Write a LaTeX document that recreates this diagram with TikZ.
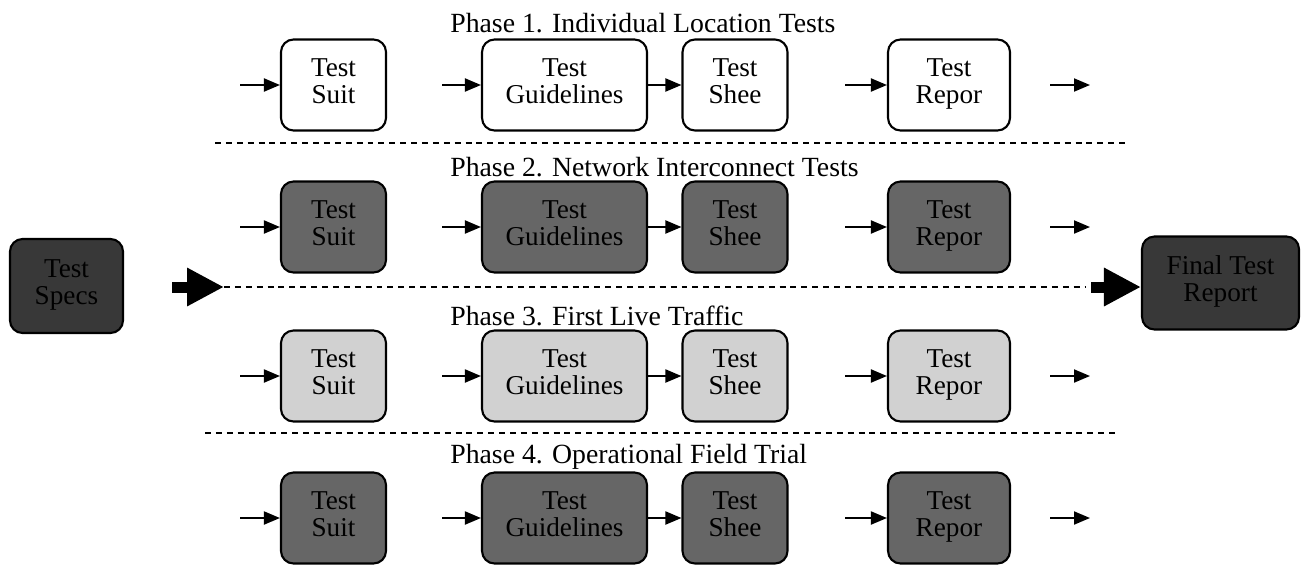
\documentclass[tikz,border=0pt]{standalone}
\usepackage{fontspec}
\setmainfont{Liberation Serif}
\usetikzlibrary{arrows.meta}

\begin{document}
\begin{tikzpicture}[x=0.02cm,y=-0.02cm,
    stage/.style={draw, line width=1.2pt, rounded corners=0.25cm, align=center,
        font=\fontsize{15.5}{15.5}\selectfont, minimum height=1.82cm, inner sep=0pt},
    plain/.style={stage, fill=white},
    dark/.style={stage, fill=black!60},
    light/.style={stage, fill=black!18},
    outer/.style={stage, fill=black!78},
    narrow/.style={minimum width=2.1cm},
    wide/.style={minimum width=3.3cm},
    mid/.style={minimum width=2.44cm},
    flow/.style={-{Triangle[length=0.32cm,width=0.26cm]}, line width=1.1pt},
    bigflow/.style={-{Triangle[length=0.74cm,width=0.72cm]}, line width=0.22cm},
    sep/.style={dash pattern=on 3.4pt off 2.8pt, line width=1pt},
    title/.style={anchor=west, inner sep=0pt, font=\fontsize{15.8}{17}\selectfont}]
    	\useasboundingbox (0,0) rectangle (1307,565);
    	\newcommand{\xsuit}{333.5}
    	\newcommand{\xguide}{564.5}
    	\newcommand{\xshee}{735}
    	\newcommand{\xrepor}{949}
    	\newcommand{\rowa}{85}
    	\newcommand{\rowb}{227}
    	\newcommand{\rowc}{376}
    	\newcommand{\rowd}{518}

    	% outer nodes
    	\node[outer, minimum width=2.26cm, minimum height=1.88cm] (specs) at (66.5,286) {Test\\Specs\strut};
    	\node[outer, minimum width=3.14cm, minimum height=1.86cm] (final) at (1220.5,283) {Final Test\\Report\strut};

    	% phase 1
    	\node[title] (ph1) at (450,23) {Phase 1. Individual Location Tests};
    	\node[plain, narrow] (suit1) at (\xsuit,\rowa) {Test\\Suit\strut};
    	\node[plain, wide] (guide1) at (\xguide,\rowa) {Test\\Guidelines\strut};
    	\node[plain, narrow] (shee1) at (\xshee,\rowa) {Test\\Shee\strut};
    	\node[plain, mid] (repor1) at (\xrepor,\rowa) {Test\\Repor\strut};
    	\coordinate (s1) at (240,\rowa); \coordinate (g1) at (442,\rowa); \coordinate (r1) at (845,\rowa);
    	\coordinate (o1) at (1050,\rowa); \coordinate (e1) at (1090,\rowa);
    	\draw[flow] (s1) -- (suit1);
    	\draw[flow] (g1) -- (guide1);
    	\draw[flow] (guide1) -- (shee1);
    	\draw[flow] (r1) -- (repor1);
    	\draw[flow] (o1) -- (e1);

    	% separators
    	\coordinate (d1l) at (215,143); \coordinate (d1r) at (1125,143);
    	\coordinate (d2l) at (224,287); \coordinate (d2r) at (1085,287);
    	\coordinate (d3l) at (205,433); \coordinate (d3r) at (1120,433);
    	\coordinate (bl) at (172,287); \coordinate (br) at (1091,287);
    	\draw[sep] (d1l) -- (d1r);
    	\draw[sep] (d2l) -- (d2r);
    	\draw[sep] (d3l) -- (d3r);
    	\draw[bigflow] (bl) -- (d2l);
    	\draw[bigflow] (br) -- (br -| final.west);

    	% phase 2
    	\node[title] (ph2) at (450,167) {Phase 2. Network Interconnect Tests};
    	\node[dark, narrow] (suit2) at (\xsuit,\rowb) {Test\\Suit\strut};
    	\node[dark, wide] (guide2) at (\xguide,\rowb) {Test\\Guidelines\strut};
    	\node[dark, narrow] (shee2) at (\xshee,\rowb) {Test\\Shee\strut};
    	\node[dark, mid] (repor2) at (\xrepor,\rowb) {Test\\Repor\strut};
    	\coordinate (s2) at (240,\rowb); \coordinate (g2) at (442,\rowb); \coordinate (r2) at (845,\rowb);
    	\coordinate (o2) at (1050,\rowb); \coordinate (e2) at (1090,\rowb);
    	\draw[flow] (s2) -- (suit2);
    	\draw[flow] (g2) -- (guide2);
    	\draw[flow] (guide2) -- (shee2);
    	\draw[flow] (r2) -- (repor2);
    	\draw[flow] (o2) -- (e2);

    	% phase 3
    	\node[title] (ph3) at (450,316) {Phase 3. First Live Traffic};
    	\node[light, narrow] (suit3) at (\xsuit,\rowc) {Test\\Suit\strut};
    	\node[light, wide] (guide3) at (\xguide,\rowc) {Test\\Guidelines\strut};
    	\node[light, narrow] (shee3) at (\xshee,\rowc) {Test\\Shee\strut};
    	\node[light, mid] (repor3) at (\xrepor,\rowc) {Test\\Repor\strut};
    	\coordinate (s3) at (240,\rowc); \coordinate (g3) at (442,\rowc); \coordinate (r3) at (845,\rowc);
    	\coordinate (o3) at (1050,\rowc); \coordinate (e3) at (1090,\rowc);
    	\draw[flow] (s3) -- (suit3);
    	\draw[flow] (g3) -- (guide3);
    	\draw[flow] (guide3) -- (shee3);
    	\draw[flow] (r3) -- (repor3);
    	\draw[flow] (o3) -- (e3);

    	% phase 4
    	\node[title] (ph4) at (450,457) {Phase 4. Operational Field Trial};
    	\node[dark, narrow] (suit4) at (\xsuit,\rowd) {Test\\Suit\strut};
    	\node[dark, wide] (guide4) at (\xguide,\rowd) {Test\\Guidelines\strut};
    	\node[dark, narrow] (shee4) at (\xshee,\rowd) {Test\\Shee\strut};
    	\node[dark, mid] (repor4) at (\xrepor,\rowd) {Test\\Repor\strut};
    	\coordinate (s4) at (240,\rowd); \coordinate (g4) at (442,\rowd); \coordinate (r4) at (845,\rowd);
    	\coordinate (o4) at (1050,\rowd); \coordinate (e4) at (1090,\rowd);
    	\draw[flow] (s4) -- (suit4);
    	\draw[flow] (g4) -- (guide4);
    	\draw[flow] (guide4) -- (shee4);
    	\draw[flow] (r4) -- (repor4);
    	\draw[flow] (o4) -- (e4);
\end{tikzpicture}
\end{document}
